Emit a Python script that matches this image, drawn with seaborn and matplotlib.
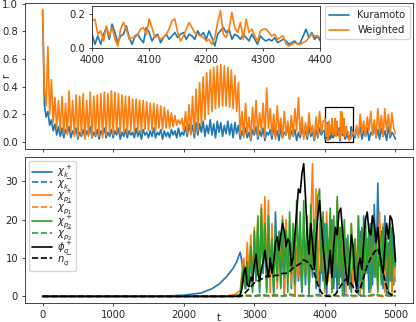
import numpy as np
import pandas as pd
import matplotlib
matplotlib.use("Agg")
import matplotlib.pyplot as plt
import seaborn as sns
from matplotlib.patches import Rectangle

sns.set_style("ticks")
plt.rcParams['font.family'] = ['DejaVu Sans']
plt.rcParams.update({
    "font.size": 7.2,
    "xtick.labelsize": 7.2,
    "ytick.labelsize": 7.2,
    "xtick.major.size": 2.5,
    "ytick.major.size": 2.5,
    "xtick.major.pad": 2.5,
    "ytick.major.pad": 2.5,
    "xtick.major.width": 0.6,
    "ytick.major.width": 0.6,
    "axes.linewidth": 0.6,
    "lines.linewidth": 1.2,
})

# ---------- top panel: order parameter r(t) ----------
# coarse samples t = 0..3975 (step 25)
t_a = np.arange(0, 4000, 25)
kur_a = [0.95, 0.27, 0.18, 0.22, 0.12,
         0.16, 0.08, 0.13, 0.05, 0.11, 0.04, 0.10, 0.03, 0.09, 0.06,
         0.11, 0.03, 0.08, 0.05, 0.10, 0.02, 0.07, 0.04, 0.09, 0.03,
         0.08, 0.05, 0.11, 0.03, 0.07, 0.04, 0.09, 0.02, 0.08, 0.05,
         0.10, 0.03, 0.07, 0.04, 0.09, 0.03,
         0.08, 0.05, 0.10, 0.02, 0.07, 0.04, 0.09, 0.03, 0.08, 0.05,
         0.07, 0.03, 0.10, 0.04, 0.08, 0.02, 0.09, 0.05, 0.07, 0.03,
         0.08, 0.04, 0.10, 0.03, 0.07, 0.05, 0.09, 0.02, 0.08, 0.04,
         0.07, 0.03, 0.09, 0.05, 0.08, 0.03, 0.10, 0.04, 0.07, 0.05,
         0.11, 0.04, 0.13, 0.06, 0.12, 0.03, 0.14, 0.05, 0.13, 0.07,
         0.15, 0.04, 0.12, 0.06, 0.16, 0.05, 0.13, 0.03, 0.15, 0.07,
         0.14, 0.04, 0.12, 0.06, 0.15, 0.05, 0.13, 0.03, 0.14, 0.06,
         0.12,
         0.02, 0.08, 0.04, 0.10, 0.03, 0.07, 0.01, 0.09, 0.05, 0.11,
         0.02, 0.08, 0.04, 0.10, 0.01, 0.07, 0.05, 0.09, 0.02, 0.11,
         0.04, 0.08, 0.01, 0.10, 0.03, 0.07, 0.05, 0.12, 0.02, 0.08,
         0.04, 0.09, 0.01, 0.07, 0.03, 0.10, 0.05, 0.08, 0.02, 0.11,
         0.04, 0.07, 0.01, 0.09, 0.03, 0.10, 0.05, 0.08]
wei_a = [0.96, 0.40, 0.26, 0.69, 0.20, 0.45, 0.14, 0.32, 0.10, 0.30,
         0.08, 0.33, 0.06, 0.28, 0.05, 0.37, 0.07, 0.30, 0.04, 0.34,
         0.03, 0.33, 0.05, 0.35, 0.02, 0.30, 0.04, 0.36, 0.03, 0.33,
         0.05, 0.34, 0.04, 0.35, 0.03, 0.36, 0.05, 0.35, 0.06, 0.37,
         0.05, 0.36, 0.07, 0.35, 0.06, 0.34, 0.07, 0.33, 0.06, 0.33,
         0.08, 0.31, 0.07, 0.31, 0.08, 0.30, 0.07, 0.30, 0.09, 0.29,
         0.08, 0.28, 0.09, 0.28, 0.08, 0.27, 0.10, 0.26, 0.09, 0.25,
         0.10, 0.23, 0.10, 0.21, 0.11, 0.19, 0.12, 0.16, 0.13, 0.17,
         0.08, 0.22, 0.06, 0.27, 0.05, 0.33, 0.06, 0.38, 0.08, 0.43,
         0.12, 0.47, 0.16, 0.50, 0.20, 0.52, 0.22, 0.54, 0.24, 0.55,
         0.25, 0.56, 0.26, 0.55, 0.26, 0.54, 0.25, 0.52, 0.24, 0.48,
         0.22, 0.43, 0.05, 0.22, 0.03, 0.28, 0.06, 0.18, 0.02, 0.25,
         0.07, 0.30, 0.04, 0.21, 0.08, 0.28, 0.03, 0.39, 0.10, 0.24,
         0.05, 0.20, 0.02, 0.26, 0.06, 0.17, 0.03, 0.22, 0.05, 0.15,
         0.02, 0.19, 0.04, 0.24, 0.08, 0.32, 0.05, 0.18, 0.02, 0.14,
         0.04, 0.21, 0.06, 0.12, 0.02, 0.18, 0.04, 0.22, 0.07, 0.15]

# fine samples inside the zoom window t = 4000..4400 (step 5)
t_zoom = np.arange(4000, 4401, 5)
kur_zoom = [0.08, 0.02, 0.07, 0.02, 0.08, 0.12, 0.05, 0.14, 0.09, 0.03,
            0.07, 0.08, 0.13, 0.06, 0.02, 0.07, 0.08, 0.05, 0.03, 0.12,
            0.09, 0.04, 0.07, 0.08, 0.03, 0.06, 0.08, 0.05, 0.07, 0.09,
            0.06, 0.08, 0.09, 0.05, 0.08, 0.07, 0.05, 0.10, 0.07, 0.09,
            0.05,
            0.10, 0.06, 0.01, 0.08, 0.10, 0.12, 0.09, 0.11, 0.05, 0.08,
            0.07, 0.05, 0.08, 0.06, 0.04, 0.08, 0.05, 0.02, 0.07, 0.05,
            0.04, 0.05, 0.04, 0.06, 0.03, 0.04, 0.05, 0.04, 0.02, 0.03,
            0.04, 0.02, 0.03, 0.07, 0.11, 0.06, 0.09, 0.05, 0.07, 0.04]
wei_zoom = [0.16, 0.17, 0.08, 0.10, 0.04, 0.13, 0.07, 0.12, 0.05, 0.01,
            0.11, 0.15, 0.11, 0.05, 0.06, 0.06, 0.08, 0.11, 0.12, 0.08,
            0.17, 0.12, 0.06, 0.07, 0.05, 0.06, 0.08, 0.11, 0.16, 0.17,
            0.09, 0.04, 0.07, 0.11, 0.15, 0.12, 0.09, 0.08, 0.07, 0.06,
            0.04,
            0.05, 0.02, 0.06, 0.15, 0.22, 0.08, 0.06, 0.11, 0.21, 0.12,
            0.09, 0.15, 0.05, 0.17, 0.09, 0.11, 0.07, 0.04, 0.10, 0.11,
            0.11, 0.09, 0.07, 0.08, 0.05, 0.06, 0.07, 0.02, 0.01, 0.02,
            0.03, 0.02, 0.02, 0.03, 0.04, 0.06, 0.08, 0.07, 0.07, 0.06]

# coarse samples t = 4425..5000
t_b = np.arange(4425, 5001, 25)
kur_b = [0.03, 0.09, 0.05, 0.11, 0.02, 0.08, 0.04, 0.10, 0.01, 0.07,
         0.05, 0.12, 0.03, 0.09, 0.02, 0.10, 0.04, 0.08, 0.01, 0.11,
         0.03, 0.07, 0.05, 0.02]
wei_b = [0.05, 0.12, 0.03, 0.20, 0.06, 0.15, 0.04, 0.18, 0.08, 0.22,
         0.05, 0.16, 0.03, 0.24, 0.07, 0.19, 0.04, 0.24, 0.08, 0.20,
         0.05, 0.21, 0.10, 0.06]

top = pd.DataFrame({
    "t": np.concatenate([t_a, t_zoom, t_b]),
    "Kuramoto": np.concatenate([kur_a, kur_zoom, kur_b]),
    "Weighted": np.concatenate([wei_a, wei_zoom, wei_b]),
})
zoom = pd.DataFrame({"t": t_zoom, "Kuramoto": kur_zoom, "Weighted": wei_zoom})

# ---------- bottom panel ----------
t_pre = [0, 500, 1000, 1500, 1750, 2000, 2250, 2400, 2500, 2600, 2700, 2750, 2775]
t_post = np.arange(2800, 5001, 25)
t_slow = np.arange(2800, 5001, 50)
t_flat = np.arange(2800, 5001, 100)

chik_p_pre = [0, 0, 0, 0.02, 0.1, 0.3, 0.9, 2.0, 3.2, 5.0, 7.3, 9.0, 10.3]
chik_p_post = [11.5, 9.0, 4.0, 2.0, 7.0, 3.0, 12.0, 2.5, 15.0, 4.0,
               18.0, 1.0, 21.0, 6.0, 16.0, 2.0, 19.0, 5.0, 12.0, 1.0,
               22.0, 8.0, 17.0, 3.0, 14.0, 0.5, 19.0, 6.0, 11.0, 2.0,
               16.0, 0.5, 12.0, 4.0, 9.0, 1.0, 14.0, 3.0, 18.0, 0.5,
               13.0, 5.0, 17.0, 2.0, 10.0, 1.0, 15.0, 4.0, 19.0, 0.5,
               12.0, 6.0, 20.0, 2.0, 14.0, 1.0, 18.0, 5.0, 11.0, 0.5,
               15.0, 3.0, 9.0, 1.0, 13.0, 4.0, 8.0, 0.5, 17.0, 2.0,
               21.0, 6.0, 15.0, 1.0, 19.0, 3.0, 24.0, 5.0, 29.5, 8.0,
               17.0, 2.0, 21.0, 0.5, 14.0, 4.0, 18.0, 3.0, 10.0]
chip1_p_pre = [0, 0, 0, 0, 0, 0, 0, 0, 0, 0.1, 0.4, 0.8, 1.2]
chip1_p_post = [1.5, 6.0, 10.0, 3.0, 14.0, 5.0, 16.0, 2.0, 18.0, 7.0,
                20.0, 3.0, 24.0, 9.0, 26.0, 4.0, 25.0, 1.0, 19.0, 6.0,
                12.0, 2.0, 16.0, 5.0, 21.0, 1.0, 20.0, 7.0, 14.0, 3.0,
                18.0, 0.5, 13.0, 5.0, 17.0, 2.0, 15.0, 6.0, 16.0, 1.0,
                20.0, 34.6, 8.0, 28.0, 3.0, 19.0, 6.0, 15.0, 1.0, 22.0,
                4.0, 18.0, 2.0, 20.0, 7.0, 25.0, 3.0, 16.0, 9.0, 18.0,
                1.0, 14.0, 5.0, 19.0, 2.0, 15.0, 6.0, 21.0, 0.5, 17.0,
                4.0, 13.0, 8.0, 19.0, 1.0, 20.0, 6.0, 16.0, 2.0, 22.0,
                5.0, 19.0, 1.0, 14.0, 3.0, 17.0, 0.5, 8.0, 4.0]
chip2_p_pre = [0, 0, 0, 0, 0, 0, 0, 0, 0, 0, 0.1, 0.3, 0.4]
chip2_p_post = [0.5, 5.0, 8.0, 2.0, 9.0, 3.0, 13.0, 1.0, 17.0, 4.0,
                21.0, 2.0, 23.0, 6.0, 19.0, 1.0, 21.0, 7.0, 15.0, 0.5,
                18.0, 4.0, 16.0, 2.0, 20.0, 5.0, 17.0, 1.0, 22.0, 6.0,
                19.0, 3.0, 25.0, 8.0, 22.0, 2.0, 25.0, 5.0, 21.0, 1.0,
                24.0, 7.0, 20.0, 3.0, 26.0, 28.0, 6.0, 22.0, 2.0, 19.0,
                8.0, 23.0, 1.0, 21.0, 5.0, 26.0, 3.0, 18.0, 0.5, 20.0,
                6.0, 16.0, 2.0, 19.0, 7.0, 15.0, 1.0, 21.0, 4.0, 18.0,
                0.5, 20.0, 6.0, 17.0, 2.0, 21.0, 5.0, 14.0, 1.0, 16.0,
                3.0, 18.0, 7.0, 15.0, 1.0, 19.0, 4.0, 16.0, 8.0]
phiq_p_pre = [0, 0, 0, 0, 0, 0, 0, 0, 0, 0, 0, 0, 0.1]
phiq_p_post = [0.3, 2.0, 6.0, 7.5, 3.0, 2.5, 5.0, 4.0, 8.0, 11.0,
               6.0, 4.0, 7.0, 9.0, 12.0, 8.0, 5.0, 10.0, 6.0, 9.0,
               14.0, 15.5, 12.0, 16.0, 19.0, 17.0, 13.0, 15.0, 14.0, 8.0,
               10.0, 16.0, 22.0, 28.0, 27.0, 32.0, 34.6, 26.0, 16.0, 11.0,
               19.0, 14.0, 7.0, 15.0, 21.0, 25.0, 19.0, 13.0, 8.0, 3.0,
               7.0, 12.0, 5.0, 13.0, 18.0, 16.0, 22.0, 23.0, 17.0, 11.0,
               6.0, 3.0, 9.0, 16.0, 13.0, 5.0, 2.0, 8.0, 10.0, 7.0,
               14.0, 20.0, 22.0, 17.0, 16.0, 21.0, 19.0, 14.0, 18.0, 12.0,
               8.0, 6.0, 13.0, 19.0, 15.0, 21.0, 20.0, 16.0, 9.0]
nq_m_post = [0.0, 0.5, 1.5, 2.5, 3.5, 4.0, 4.5, 5.0, 5.5, 5.0,
             5.5, 5.5, 6.0, 6.0, 6.5, 7.5, 8.0, 8.5, 9.5, 9.0,
             8.0, 6.0, 3.0, 1.0, 0.2, 0.0, 0.0, 0.5, 2.0, 3.5,
             4.5, 4.0, 2.5, 1.0, 2.0, 5.0, 8.0, 10.0, 11.5, 12.5,
             9.0, 4.0, 1.0, 0.3, 1.5]
chik_m_post = [0, 0.1, 0, 0.2, 0, 0.1, 0, 0.3, 0, 0.1, 0, 0.2,
               0, 0.1, 0, 0.2, 0, 0.1, 0, 0.3, 0, 0.1, 0]
chip1_m_post = [0, 0.2, 0.1, 0.3, 0, 0.2, 0.1, 0.4, 0, 0.2, 0.1, 0.3,
                0, 0.2, 0.1, 0.3, 0, 0.2, 0.1, 0.3, 0, 0.2, 0.1]
chip2_m_post = [0, 0.3, 0.1, 0.5, 0.2, 0.4, 0.1, 0.6, 0.2, 0.3, 0.1, 0.5,
                0.2, 0.4, 0.1, 0.5, 0.2, 0.3, 0.1, 0.6, 0.2, 0.4, 0.1]
zeros_pre = [0] * len(t_pre)

bottom_series = [
    (r"$\chi_k^+$", "C0", "-", t_post, chik_p_pre, chik_p_post),
    (r"$\chi_k^-$", "C0", "--", t_flat, zeros_pre, chik_m_post),
    (r"$\chi_{p_1}^+$", "C1", "-", t_post, chip1_p_pre, chip1_p_post),
    (r"$\chi_{p_1}^-$", "C1", "--", t_flat, zeros_pre, chip1_m_post),
    (r"$\chi_{p_2}^+$", "C2", "-", t_post, chip2_p_pre, chip2_p_post),
    (r"$\chi_{p_2}^-$", "C2", "--", t_flat, zeros_pre, chip2_m_post),
    (r"$\phi_q^+$", "k", "-", t_post, phiq_p_pre, phiq_p_post),
    (r"$n_q^-$", "k", "--", t_slow, zeros_pre, nq_m_post),
]

# ---------- figure ----------
fig, (ax1, ax2) = plt.subplots(2, 1, figsize=(4.16, 3.22), dpi=100, sharex=True)
fig.subplots_adjust(left=0.06, right=0.993, top=0.992, bottom=0.059, hspace=0.058)

sns.lineplot(data=top, x="t", y="Kuramoto", ax=ax1, color="C0", label="Kuramoto",
             estimator=None, sort=False)
sns.lineplot(data=top, x="t", y="Weighted", ax=ax1, color="C1", label="Weighted",
             estimator=None, sort=False)
ax1.set_ylabel("r")
ax1.yaxis.set_label_coords(-0.035, 0.5)
ax1.set_xlabel("")
ax1.legend(loc="upper right", fontsize=7.2, borderaxespad=0.35)
ax1.add_patch(Rectangle((t_zoom[0], 0), t_zoom[-1] - t_zoom[0], 0.25,
                        fill=False, edgecolor="k", lw=0.9))

axins = ax1.inset_axes([0.173, 0.691, 0.588, 0.288])
sns.lineplot(data=zoom, x="t", y="Kuramoto", ax=axins, color="C0", estimator=None, sort=False)
sns.lineplot(data=zoom, x="t", y="Weighted", ax=axins, color="C1", estimator=None, sort=False)
axins.set_xlim(4000, 4400)
axins.set_ylim(0, 0.25)
axins.set_xticks([4000, 4100, 4200, 4300, 4400])
axins.set_yticks([0.0, 0.2])
axins.set_xlabel("")
axins.set_ylabel("")

for label, color, ls, t_tail, pre, post in bottom_series:
    d = pd.DataFrame({"t": np.concatenate([t_pre, t_tail]),
                      "v": np.concatenate([pre, post])})
    sns.lineplot(data=d, x="t", y="v", ax=ax2, color=color, linestyle=ls,
                 label=label, estimator=None, sort=False)

ax2.set_xlabel("t")
ax2.xaxis.set_label_coords(0.5, -0.07)
ax2.set_ylabel("")
ax2.set_yticks([0, 10, 20, 30])
ax2.set_xticks([0, 1000, 2000, 3000, 4000, 5000])
ax2.legend(loc="upper left", fontsize=7.2, labelspacing=-0.32, handlelength=2.0,
           borderpad=0.3, borderaxespad=0.4, handletextpad=0.5)

fig.savefig("out.png", dpi=100)
